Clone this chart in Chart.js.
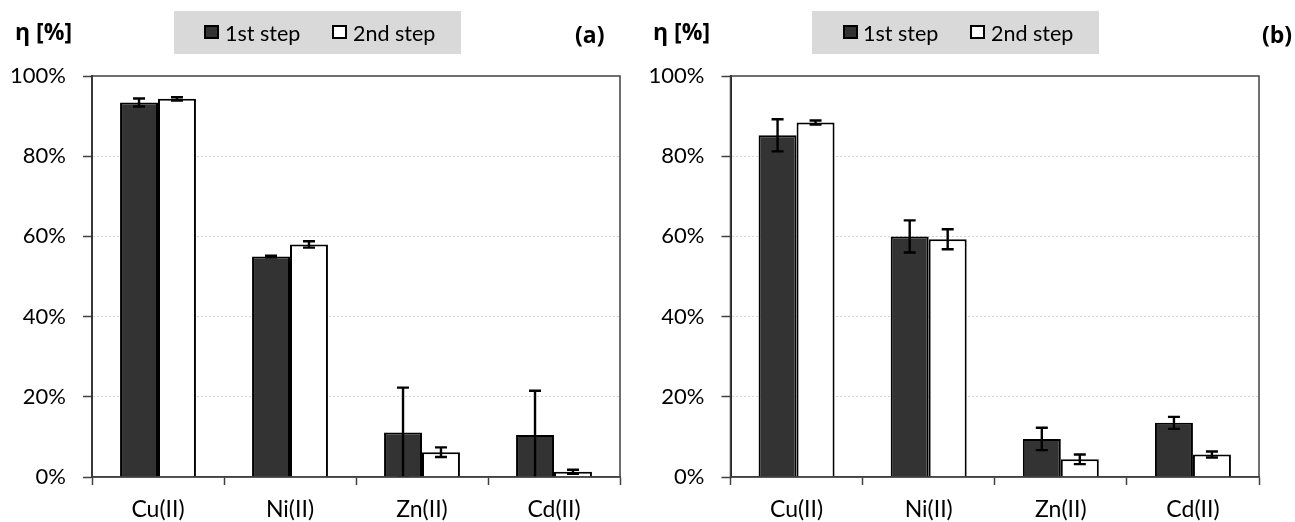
<!DOCTYPE html>
<html>
<head>
<meta charset="utf-8">
<script src="https://cdn.jsdelivr.net/npm/chart.js@4.4.1/dist/chart.umd.min.js"></script>
<style>
  html, body { margin: 0; padding: 0; background: #fff; }
  #wrap { position: relative; width: 1295px; height: 522px; overflow: hidden; font-family: Lato, "Open Sans", sans-serif; color: #000; }
  canvas { position: absolute; top: 0; }
  .ttl { position: absolute; font-family: "Open Sans", sans-serif; font-weight: bold; font-size: 23px; line-height: 26px; white-space: nowrap; }
  .lg { position: absolute; top: 11px; width: 287px; height: 43px; background: #d9d9d9; }
  .lg span { position: absolute; font-size: 21.5px; line-height: 26px; top: 9px; white-space: nowrap; }
  .lg i { position: absolute; top: 14px; width: 15px; height: 14px; box-sizing: border-box; border: 2px solid #000; }
</style>
</head>
<body>
<div id="wrap">
  <canvas id="chartA" width="640" height="522" style="left:0"></canvas>
  <canvas id="chartB" width="655" height="522" style="left:640px"></canvas>

  <div class="ttl" style="left:15px; top:18px">η [%]</div>
  <div class="ttl" style="left:575px; top:21px">(a)</div>
  <div class="lg" style="left:174px">
    <i style="left:30px; background:#333"></i><span style="left:51px" id="la1"></span>
    <i style="left:158px; background:#fff"></i><span style="left:179px" id="la2"></span>
  </div>

  <div class="ttl" style="left:653px; top:18px">η [%]</div>
  <div class="ttl" style="left:1262px; top:21px">(b)</div>
  <div class="lg" style="left:812px">
    <i style="left:31px; background:#333"></i><span style="left:51px" id="lb1"></span>
    <i style="left:158px; background:#fff"></i><span style="left:179px" id="lb2"></span>
  </div>
</div>
<script>
// Metal ions on the x axis and the two extraction steps
const categories = ['Cu(II)', 'Ni(II)', 'Zn(II)', 'Cd(II)'];
const stepNames = ['1st step', '2nd step'];
const yTickValues = [0, 20, 40, 60, 80, 100];

// Panel (a): efficiency η in % and its standard deviation
const aStep1 = [93.4, 55.0, 11.1, 10.5];
const aStep1Err = [1.0, 0.2, 11.2, 11.0];
const aStep2 = [94.3, 58.0, 6.2, 1.3];
const aStep2Err = [0.4, 0.8, 1.2, 0.5];

// Panel (b)
const bStep1 = [85.2, 60.0, 9.5, 13.5];
const bStep1Err = [4.0, 4.0, 2.8, 1.5];
const bStep2 = [88.4, 59.3, 4.4, 5.6];
const bStep2Err = [0.5, 2.5, 1.2, 0.75];

document.getElementById('la1').textContent = stepNames[0];
document.getElementById('la2').textContent = stepNames[1];
document.getElementById('lb1').textContent = stepNames[0];
document.getElementById('lb2').textContent = stepNames[1];

const FONT = 'Lato, "Open Sans", sans-serif';
const AXIS = '#404040';

// whiskers drawn from each dataset's "errors" array through the y scale
const errorBars = {
  id: 'errorBars',
  afterDatasetsDraw(chart) {
    const ctx = chart.ctx;
    const y = chart.scales.y;
    const area = chart.chartArea;
    ctx.save();
    ctx.beginPath();
    ctx.rect(area.left, area.top, area.right - area.left, area.bottom - area.top);
    ctx.clip();
    ctx.strokeStyle = '#000';
    ctx.lineWidth = 2.4;
    chart.data.datasets.forEach((ds, di) => {
      const meta = chart.getDatasetMeta(di);
      meta.data.forEach((bar, i) => {
        const v = ds.data[i], e = ds.errors[i];
        const yTop = y.getPixelForValue(v + e);
        const yBot = y.getPixelForValue(v - e);
        const x = bar.x, hw = 6;
        ctx.beginPath();
        ctx.moveTo(x, yTop); ctx.lineTo(x, yBot);
        ctx.moveTo(x - hw, yTop); ctx.lineTo(x + hw, yTop);
        ctx.moveTo(x - hw, yBot); ctx.lineTo(x + hw, yBot);
        ctx.stroke();
      });
    });
    ctx.restore();
  }
};

// frame around the plot area
const plotFrame = {
  id: 'plotFrame',
  afterDraw(chart) {
    const a = chart.chartArea, ctx = chart.ctx;
    ctx.save();
    ctx.strokeStyle = AXIS;
    ctx.lineWidth = 1.5;
    ctx.strokeRect(a.left, a.top, a.right - a.left, a.bottom - a.top);
    ctx.restore();
  }
};

function makeChart(id, s1, e1, s2, e2, yWidth, padRight) {
  return new Chart(document.getElementById(id), {
    type: 'bar',
    data: {
      labels: categories,
      datasets: [
        { label: stepNames[0], data: s1, errors: e1, backgroundColor: '#333333', borderColor: '#000', borderWidth: 2 },
        { label: stepNames[1], data: s2, errors: e2, backgroundColor: '#ffffff', borderColor: '#000', borderWidth: 2 }
      ]
    },
    options: {
      responsive: false,
      animation: false,
      devicePixelRatio: 1,
      categoryPercentage: 0.575,
      barPercentage: 1.0,
      layout: { padding: { top: 76, right: padRight, left: 0, bottom: 0 } },
      plugins: { legend: { display: false }, tooltip: { enabled: false } },
      scales: {
        x: {
          offset: true,
          grid: { display: true, offset: true, drawOnChartArea: false, tickLength: 8, tickColor: AXIS, tickWidth: 1.5 },
          border: { display: true, color: AXIS, width: 1.5 },
          ticks: { color: '#000', font: { family: FONT, size: 23 }, padding: 11, maxRotation: 0 },
          afterFit(s) { s.height = 45; }
        },
        y: {
          min: yTickValues[0],
          max: yTickValues[yTickValues.length - 1],
          afterBuildTicks(s) { s.ticks = yTickValues.map(v => ({ value: v })); },
          grid: {
            color: c => (c.tick && (c.tick.value === 0 || c.tick.value === 100)) ? 'rgba(0,0,0,0)' : '#d4d4d4',
            lineWidth: 1,
            tickLength: 9, tickColor: AXIS, tickWidth: 1.5
          },
          border: { display: true, color: '#202020', width: 2, dash: [2, 2] },
          ticks: { color: '#000', font: { family: FONT, size: 22 }, padding: 17, callback: v => v + '%' },
          afterFit(s) { s.width = yWidth; }
        }
      }
    },
    plugins: [errorBars, plotFrame]
  });
}

makeChart('chartA', aStep1, aStep1Err, aStep2, aStep2Err, 92, 20);
makeChart('chartB', bStep1, bStep1Err, bStep2, bStep2Err, 90.5, 36);
</script>
</body>
</html>
